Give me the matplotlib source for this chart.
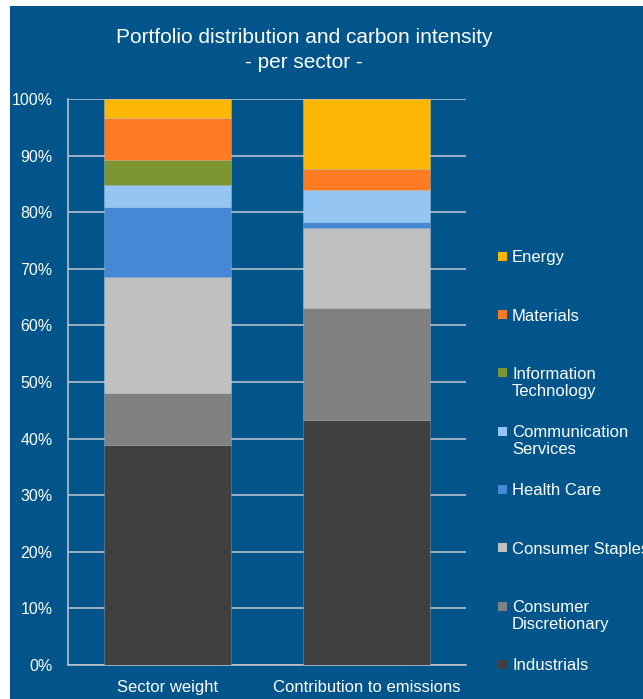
import matplotlib.pyplot as plt
from matplotlib.patches import Rectangle
import numpy as np

plt.rcParams['font.family'] = ['Liberation Sans', 'DejaVu Sans']

# data (percent of each bar)
columns = ["Sector weight", "Contribution to emissions"]
sectors = ["Industrials", "Consumer\nDiscretionary", "Consumer Staples", "Health Care",
           "Communication\nServices", "Information\nTechnology", "Materials", "Energy"]
sector_weight = [38.9, 9.1, 20.5, 12.4, 3.85, 4.55, 7.4, 3.3]
contribution = [43.2, 19.9, 14.05, 1.15, 5.55, 0.0, 3.75, 12.4]
colors = ["#404040", "#808080", "#c0c0c0", "#4688d4",
          "#94c5f3", "#7e9632", "#fd7b22", "#fdb603"]

bg = "#01558a"
grid_col = "#c3c8cf"

W, H = 643, 699
fig = plt.figure(figsize=(W / 100, H / 100), dpi=100, facecolor="white")
fig.patches.append(Rectangle((10 / W, 0), 1, (H - 6) / H, transform=fig.transFigure,
                             facecolor=bg, edgecolor="none", zorder=-10))

ax = fig.add_axes([68 / W, (H - 665) / H, (466 - 68) / W, (665 - 99) / H])
ax.set_facecolor(bg)

x = np.arange(len(columns))
values = np.array([sector_weight, contribution]).T
bottom = np.zeros(len(columns))
for vals, col in zip(values, colors):
    ax.bar(x, vals, bottom=bottom, width=0.64, color=col,
           edgecolor=(1, 1, 1, 0.25), linewidth=0.6, zorder=3)
    bottom += vals

ax.set_xlim(-0.5, 1.5)
ax.set_ylim(0, 100)
ax.set_yticks(np.arange(0, 101, 10))
ax.set_yticklabels([f"{v}%" for v in range(0, 101, 10)])
ax.set_xticks(x)
ax.set_xticklabels(columns)
ax.yaxis.grid(True, color=grid_col, linewidth=1.1, zorder=1)
ax.tick_params(axis="y", length=0, pad=11, labelsize=11.5, labelcolor="white")
ax.tick_params(axis="x", length=0, pad=11, labelsize=12, labelcolor="white")
for s in ["top", "right"]:
    ax.spines[s].set_visible(False)
for s in ["left", "bottom"]:
    ax.spines[s].set_color(grid_col)
    ax.spines[s].set_linewidth(1.1)

fig.text(304 / W, 1 - 50 / H, "Portfolio distribution and carbon intensity\n- per sector -",
         ha="center", va="center", color="white", fontsize=15, linespacing=1.35)

# legend, top entry first
top_y, step = 251.7, 58.3
for i, (lab, col) in enumerate(zip(sectors[::-1], colors[::-1])):
    y0 = top_y + i * step
    fig.patches.append(Rectangle((498 / W, 1 - (y0 + 9) / H), 9 / W, 9 / H,
                                 transform=fig.transFigure, facecolor=col,
                                 edgecolor="none"))
    fig.text(512 / W, 1 - (y0 - 1.5) / H, lab, ha="left", va="top",
             color="white", fontsize=12, linespacing=1.2)

fig.savefig("out.png", dpi=100, facecolor="white")
